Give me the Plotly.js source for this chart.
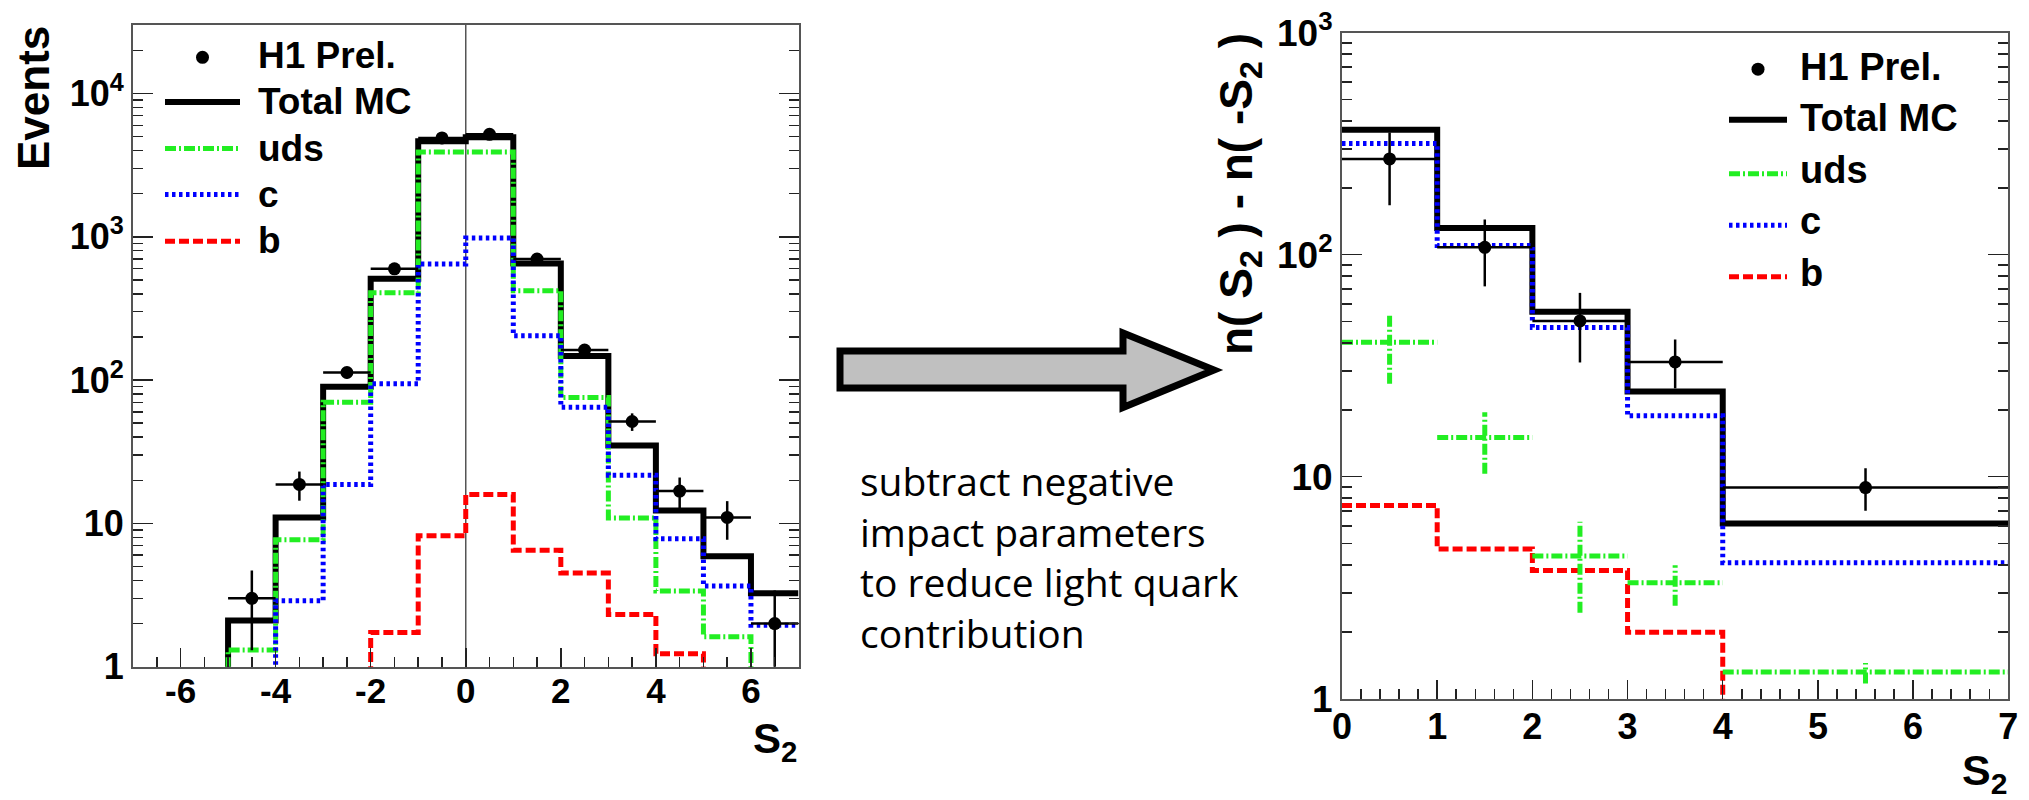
<!DOCTYPE html>
<html>
<head>
<meta charset="utf-8">
<script src="https://cdn.plot.ly/plotly-3.0.1.min.js"></script>
<style>html,body{margin:0;padding:0;background:#fff;}#chart{width:2029px;height:800px;}</style>
</head>
<body>
<div id="chart"></div>
<script>
// ---------------- DATA: left panel (all S2) ----------------
const edgesLeft    = [-5, -4, -3, -2, -1, 0, 1, 2, 3, 4, 5, 6, 7];
const totalMCLeft  = [2.1, 11, 90, 510, 4650, 4950, 650, 147, 35, 12.3, 5.9, 3.25];
const udsLeft      = [1.31, 7.7, 70, 407, 3900, 3900, 421, 75.6, 10.9, 3.37, 1.62, 0];
const charmLeft    = [0, 2.88, 18.7, 94.4, 645, 980, 204, 64.7, 21.7, 7.8, 3.66, 1.95];
const beautyLeft   = [0, 0, 0, 1.73, 8.2, 15.9, 6.5, 4.5, 2.31, 1.23, 0, 0];
const dataXLeft    = [-4.5, -3.5, -2.5, -1.5, -0.5, 0.5, 1.5, 2.5, 3.5, 4.5, 5.5, 6.5];
const dataLeft     = [3.0, 18.7, 113, 598, 4900, 5190, 700, 162, 51.4, 16.8, 11.0, 2.0];
const dataErrLeft  = [1.7, 4.3, 10.6, 24, 70, 72, 26, 12.7, 7.2, 4.1, 3.3, 1.4];
const dataXErrLeft = [0.5, 0.5, 0.5, 0.5, 0.5, 0.5, 0.5, 0.5, 0.5, 0.5, 0.5, 0.5];

// ---------------- DATA: right panel (n(S2) - n(-S2)) ----------------
const edgesRight       = [0, 1, 2, 3, 4, 7];
const totalMCRight     = [365, 132, 55.3, 24.2, 6.16];
const charmRight       = [317, 110, 47, 18.8, 4.1];
const beautyRight      = [7.42, 4.73, 3.78, 1.99, 0];
const centersRight     = [0.5, 1.5, 2.5, 3.5, 5.5];
const halfWidthRight   = [0.5, 0.5, 0.5, 0.5, 1.5];
const dataRight        = [270, 108, 50.3, 32.9, 8.93];
const dataErrUpRight   = [85, 36, 17, 8.6, 2.0];
const dataErrDownRight = [103, 36, 17.6, 7.9, 1.9];
const udsRight         = [40.3, 15.0, 4.39, 3.33, 1.32];
const udsErrUpRight    = [13.3, 4.5, 1.87, 0.66, 0.13];
const udsErrDownRight  = [14.1, 4.7, 1.95, 0.71, 0.15];

// ---------------- TICK LABELS / TEXT ----------------
const xTickValsLeft  = [-6, -4, -2, 0, 2, 4, 6];
const xTickTextLeft  = ['-6', '-4', '-2', '0', '2', '4', '6'];
const yTickValsLeft  = [1, 10, 100, 1000, 10000];
const yTickTextLeft  = ['1', '10', '10<sup>2</sup>', '10<sup>3</sup>', '10<sup>4</sup>'];
const xTickValsRight = [0, 1, 2, 3, 4, 5, 6, 7];
const xTickTextRight = ['0', '1', '2', '3', '4', '5', '6', '7'];
const yTickValsRight = [1, 10, 100, 1000];
const yTickTextRight = ['1', '10', '10<sup>2</sup>', '10<sup>3</sup>'];
const legendLabels   = ['H1 Prel.', 'Total MC', 'uds', 'c', 'b'];
const noteLines      = ['subtract negative', 'impact parameters', 'to reduce light quark', 'contribution'];

// ---------------- STYLE ----------------
const W = 2029, H = 800;
const FLOOR = 0.01;
const BOLD = 'Liberation Sans, Arial, Helvetica, sans-serif';
const COL = {total: '#000000', uds: '#22ee22', c: '#0000ff', b: '#ff0000'};
const DASH = {uds: '11px,3px,2px,3px', c: '3.5px,3.5px', b: '10px,4px'};
const LW = {total: 6, uds: 5, c: 5, b: 5};

function px(x) { return x / W; }
function py(y) { return 1 - y / H; }

function stepLine(edges, vals, riseFromFloor) {
  const xs = [], ys = [];
  const v = vals.map(a => (a > 0 ? a : FLOOR));
  if (riseFromFloor) { xs.push(edges[0]); ys.push(FLOOR); }
  for (let i = 0; i < v.length; i++) {
    xs.push(edges[i], edges[i + 1]);
    ys.push(v[i], v[i]);
  }
  return {xs, ys};
}

function histTrace(edges, vals, key, xa, ya, rise) {
  const s = stepLine(edges, vals, rise);
  return {
    type: 'scatter', mode: 'lines', x: s.xs, y: s.ys, xaxis: xa, yaxis: ya,
    line: {color: COL[key], width: LW[key], dash: key === 'total' ? 'solid' : DASH[key], shape: 'linear'},
    hoverinfo: 'skip', showlegend: false
  };
}

function crossTrace(xc, xe, yv, yup, ydn, xa, ya) {
  const xs = [], ys = [];
  for (let i = 0; i < xc.length; i++) {
    xs.push(xc[i] - xe[i], xc[i] + xe[i], null, xc[i], xc[i], null);
    ys.push(yv[i], yv[i], null, yv[i] - ydn[i], yv[i] + yup[i], null);
  }
  return {
    type: 'scatter', mode: 'lines', x: xs, y: ys, xaxis: xa, yaxis: ya,
    line: {color: COL.uds, width: LW.uds, dash: DASH.uds}, hoverinfo: 'skip', showlegend: false
  };
}

function minorLog(maxExp) {
  const out = [];
  for (let e = 0; e <= maxExp; e++) for (let m = 2; m <= 9; m++) out.push(m * Math.pow(10, e));
  return out;
}

const traces = [
  histTrace(edgesLeft, totalMCLeft, 'total', 'x', 'y', true),
  histTrace(edgesLeft, udsLeft, 'uds', 'x', 'y', true),
  histTrace(edgesLeft, charmLeft, 'c', 'x', 'y', true),
  histTrace(edgesLeft, beautyLeft, 'b', 'x', 'y', true),
  {
    type: 'scatter', mode: 'markers', x: dataXLeft, y: dataLeft, xaxis: 'x', yaxis: 'y',
    marker: {color: '#000', size: 13},
    error_y: {type: 'data', array: dataErrLeft, visible: true, color: '#000', thickness: 2.5, width: 0},
    error_x: {type: 'data', array: dataXErrLeft, visible: true, color: '#000', thickness: 2.5, width: 0},
    hoverinfo: 'skip', showlegend: false
  },
  histTrace(edgesRight, totalMCRight, 'total', 'x2', 'y2', false),
  histTrace(edgesRight, charmRight, 'c', 'x2', 'y2', false),
  histTrace(edgesRight, beautyRight, 'b', 'x2', 'y2', false),
  crossTrace(centersRight, halfWidthRight, udsRight, udsErrUpRight, udsErrDownRight, 'x2', 'y2'),
  {
    type: 'scatter', mode: 'markers', x: centersRight, y: dataRight, xaxis: 'x2', yaxis: 'y2',
    marker: {color: '#000', size: 13},
    error_y: {type: 'data', symmetric: false, array: dataErrUpRight, arrayminus: dataErrDownRight, visible: true, color: '#000', thickness: 2.5, width: 0},
    error_x: {type: 'data', array: halfWidthRight, visible: true, color: '#000', thickness: 2.5, width: 0},
    hoverinfo: 'skip', showlegend: false
  }
];

const frame = {showline: true, linecolor: '#555', linewidth: 2, showgrid: false, zeroline: false,
  ticks: 'inside', tickcolor: '#222', tickwidth: 1.5, fixedrange: true};

const layout = {
  width: W, height: H, margin: {l: 0, r: 0, t: 0, b: 0},
  paper_bgcolor: '#fff', plot_bgcolor: '#fff', showlegend: false,
  xaxis: Object.assign({}, frame, {
    domain: [px(133), px(798.5)], anchor: 'y', range: [-7, 7], mirror: true,
    tickmode: 'array', tickvals: xTickValsLeft, ticktext: xTickTextLeft, ticklen: 19, ticklabelstandoff: -8,
    minor: {ticks: 'inside', ticklen: 10, tickwidth: 1.5, tickcolor: '#222', dtick: 0.5, tick0: 0},
    tickfont: {family: BOLD, size: 35, color: '#000', weight: 'bold'}
  }),
  yaxis: Object.assign({}, frame, {
    domain: [py(666.7), py(25)], anchor: 'x', type: 'log', range: [0, 4.478], mirror: 'ticks',
    tickmode: 'array', tickvals: yTickValsLeft, ticktext: yTickTextLeft, ticklen: 20,
    minor: {tickmode: 'array', tickvals: minorLog(4), ticks: 'inside', ticklen: 10, tickwidth: 1.5, tickcolor: '#222'},
    tickfont: {family: BOLD, size: 36, color: '#000', weight: 'bold'}
  }),
  xaxis2: Object.assign({}, frame, {
    domain: [px(1342), px(2008.3)], anchor: 'y2', range: [0, 7], mirror: true,
    tickmode: 'array', tickvals: xTickValsRight, ticktext: xTickTextRight, ticklen: 19, ticklabelstandoff: -5,
    minor: {ticks: 'inside', ticklen: 10, tickwidth: 1.5, tickcolor: '#222', dtick: 0.2, tick0: 0},
    tickfont: {family: BOLD, size: 36, color: '#000', weight: 'bold'}
  }),
  yaxis2: Object.assign({}, frame, {
    domain: [py(698.7), py(32.7)], anchor: 'x2', type: 'log', range: [0, 3], mirror: 'ticks',
    tickmode: 'array', tickvals: yTickValsRight, ticktext: yTickTextRight, ticklen: 20,
    minor: {tickmode: 'array', tickvals: minorLog(2), ticks: 'inside', ticklen: 10, tickwidth: 1.5, tickcolor: '#222'},
    tickfont: {family: BOLD, size: 37, color: '#000', weight: 'bold'}
  }),
  shapes: [],
  annotations: []
};

// vertical line at S2 = 0 in left panel
layout.shapes.push({type: 'line', xref: 'x', yref: 'y domain', x0: 0, x1: 0, y0: 0, y1: 1,
  line: {color: '#555', width: 1.5}, layer: 'below'});

// block arrow
const arrowPts = [[840, 351], [1123, 351], [1123, 333], [1214, 370], [1123, 407.5], [1123, 388], [840, 388]];
layout.shapes.push({type: 'path', xref: 'paper', yref: 'paper',
  path: 'M' + arrowPts.map(p => px(p[0]) + ',' + py(p[1])).join('L') + 'Z',
  fillcolor: '#c0c0c0', line: {color: '#000', width: 7}});

// note text
layout.annotations.push({xref: 'paper', yref: 'paper', x: px(858), y: py(452), xanchor: 'left', yanchor: 'top',
  align: 'left', showarrow: false, text: noteLines.join('<br>'),
  font: {family: 'Open Sans, Noto Sans, sans-serif', size: 39, color: '#000'}});

// axis titles
function title(text, x, y, xa, ya, size, angle) {
  layout.annotations.push({xref: 'paper', yref: 'paper', x: px(x), y: py(y), xanchor: xa, yanchor: ya,
    showarrow: false, text: text, textangle: angle || 0,
    font: {family: BOLD, size: size, color: '#000', weight: 'bold'}});
}
title('Events', 33, 24, 'center', 'top', 44, -90);
title('S<sub>2</sub>', 799, 713, 'right', 'top', 42);
title('n( S<sub>2</sub> ) - n( -S<sub>2</sub> )', 1240, 31, 'center', 'top', 46, -90);
title('S<sub>2</sub>', 2009, 744, 'right', 'top', 43);

// legends (drawn manually)
function legend(cfg) {
  const keys = ['data', 'total', 'uds', 'c', 'b'];
  keys.forEach((k, i) => {
    const yc = cfg.y0 + cfg.dy * i;
    const ys = yc + cfg.symOff[i];
    if (k === 'data') {
      const xm = (cfg.x1 + cfg.x2) / 2, r = 6.5;
      layout.shapes.push({type: 'circle', xref: 'paper', yref: 'paper',
        x0: px(xm - r), x1: px(xm + r), y0: py(ys + r), y1: py(ys - r),
        fillcolor: '#000', line: {color: '#000', width: 0}});
    } else {
      layout.shapes.push({type: 'line', xref: 'paper', yref: 'paper',
        x0: px(cfg.x1), x1: px(cfg.x2), y0: py(ys), y1: py(ys),
        line: {color: COL[k], width: LW[k], dash: k === 'total' ? 'solid' : DASH[k]}});
    }
    layout.annotations.push({xref: 'paper', yref: 'paper', x: px(cfg.tx), y: py(yc), xanchor: 'left', yanchor: 'middle',
      showarrow: false, text: legendLabels[i], font: {family: BOLD, size: cfg.size, color: '#000', weight: 'bold'}});
  });
}
legend({x1: 165, x2: 240, tx: 256, y0: 55.8, dy: 46.1, size: 37, symOff: [1.5, 0, 0.5, 0.5, 1]});
legend({x1: 1729, x2: 1787, tx: 1798, y0: 66.7, dy: 51.5, size: 38, symOff: [2.5, 1.5, 4, 4, 4]});

Plotly.newPlot('chart', traces, layout, {staticPlot: true, displayModeBar: false});
</script>
</body>
</html>
